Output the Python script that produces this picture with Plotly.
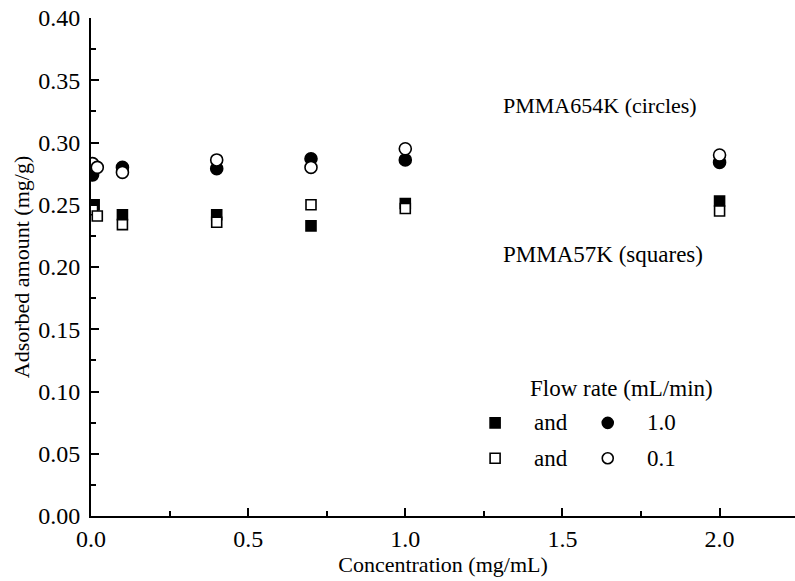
import plotly.graph_objects as go

# Adsorbed amount vs. concentration for two PMMA grades at two flow rates
conc_654k_fast = [0.005, 0.1, 0.4, 0.7, 1.0, 2.0]
ads_654k_fast = [0.274, 0.280, 0.279, 0.287, 0.286, 0.284]

conc_654k_slow = [0.005, 0.02, 0.1, 0.4, 0.7, 1.0, 2.0]
ads_654k_slow = [0.283, 0.280, 0.276, 0.286, 0.280, 0.295, 0.290]

conc_57k_fast = [0.01, 0.1, 0.4, 0.7, 1.0, 2.0]
ads_57k_fast = [0.250, 0.242, 0.242, 0.233, 0.251, 0.253]

conc_57k_slow = [0.005, 0.02, 0.1, 0.4, 0.7, 1.0, 2.0]
ads_57k_slow = [0.246, 0.241, 0.234, 0.236, 0.250, 0.247, 0.245]

x_ticks = [0.0, 0.5, 1.0, 1.5, 2.0]
y_ticks = [0.00, 0.05, 0.10, 0.15, 0.20, 0.25, 0.30, 0.35, 0.40]

FONT = "Liberation Serif"
BLACK = "black"

fig = go.Figure()

def add_series(x, y, symbol, filled, size):
    fig.add_trace(go.Scatter(
        x=x, y=y, mode="markers", showlegend=False,
        marker=dict(symbol=symbol, size=size,
                    color=BLACK if filled else "white",
                    line=dict(color=BLACK, width=1.6)),
    ))

add_series(conc_654k_fast, ads_654k_fast, "circle", True, 12)
add_series(conc_57k_fast, ads_57k_fast, "square", True, 10)
add_series(conc_654k_slow, ads_654k_slow, "circle", False, 12)
add_series(conc_57k_slow, ads_57k_slow, "square", False, 10)

# Key symbols on an overlay axis spanning the plot area (0..1 both ways)
key_rows = [(0.187, True), (0.116, False)]
for yk, filled in key_rows:
    for xk, symbol, size in [(0.574, "square", 10), (0.734, "circle", 11)]:
        fig.add_trace(go.Scatter(
            x=[xk], y=[yk], xaxis="x2", yaxis="y2", mode="markers",
            showlegend=False,
            marker=dict(symbol=symbol, size=size,
                        color=BLACK if filled else "white",
                        line=dict(color=BLACK, width=1.6)),
        ))

annotations = [
    dict(text="PMMA654K (circles)", x=0.582, y=0.825, xanchor="left", size=22),
    dict(text="PMMA57K (squares)", x=0.582, y=0.526, xanchor="left", size=23),
    dict(text="Flow rate (mL/min)", x=0.754, y=0.257, xanchor="center", size=23),
    dict(text="and", x=0.654, y=0.187, xanchor="center", size=23),
    dict(text="1.0", x=0.811, y=0.187, xanchor="center", size=23),
    dict(text="and", x=0.654, y=0.116, xanchor="center", size=23),
    dict(text="0.1", x=0.811, y=0.116, xanchor="center", size=23),
]
for a in annotations:
    size = a.pop("size")
    fig.add_annotation(xref="paper", yref="paper", yanchor="middle",
                       showarrow=False, font=dict(family=FONT, size=size, color=BLACK),
                       **a)

axis_common = dict(
    showline=True, linecolor=BLACK, linewidth=2,
    ticks="inside", tickcolor=BLACK, tickwidth=1.5, ticklen=8,
    showgrid=False, zeroline=False, mirror=False,
    tickfont=dict(family=FONT, size=24, color=BLACK),
)

fig.update_layout(
    width=795, height=581,
    margin=dict(l=91, r=0, t=18, b=65),
    paper_bgcolor="white", plot_bgcolor="white",
    xaxis=dict(range=[0, 2.24], tickvals=x_ticks,
               ticktext=[f"{v:.1f}" for v in x_ticks],
               minor=dict(ticks="inside", dtick=0.25, tick0=0, ticklen=5,
                          tickcolor=BLACK, tickwidth=1.5),
               title=dict(text="Concentration (mg/mL)", standoff=5,
                          font=dict(family=FONT, size=22, color=BLACK)),
               **axis_common),
    yaxis=dict(range=[0, 0.40], tickvals=y_ticks,
               ticktext=[f"{v:.2f}" for v in y_ticks],
               ticklabelstandoff=4,
               minor=dict(ticks="inside", dtick=0.025, tick0=0, ticklen=5,
                          tickcolor=BLACK, tickwidth=1.5),
               title=dict(text="Adsorbed amount (mg/g)", standoff=3,
                          font=dict(family=FONT, size=22, color=BLACK)),
               **axis_common),
    xaxis2=dict(range=[0, 1], overlaying="x", visible=False, fixedrange=True),
    yaxis2=dict(range=[0, 1], overlaying="y", visible=False, fixedrange=True),
)

fig.write_html("out.html")
